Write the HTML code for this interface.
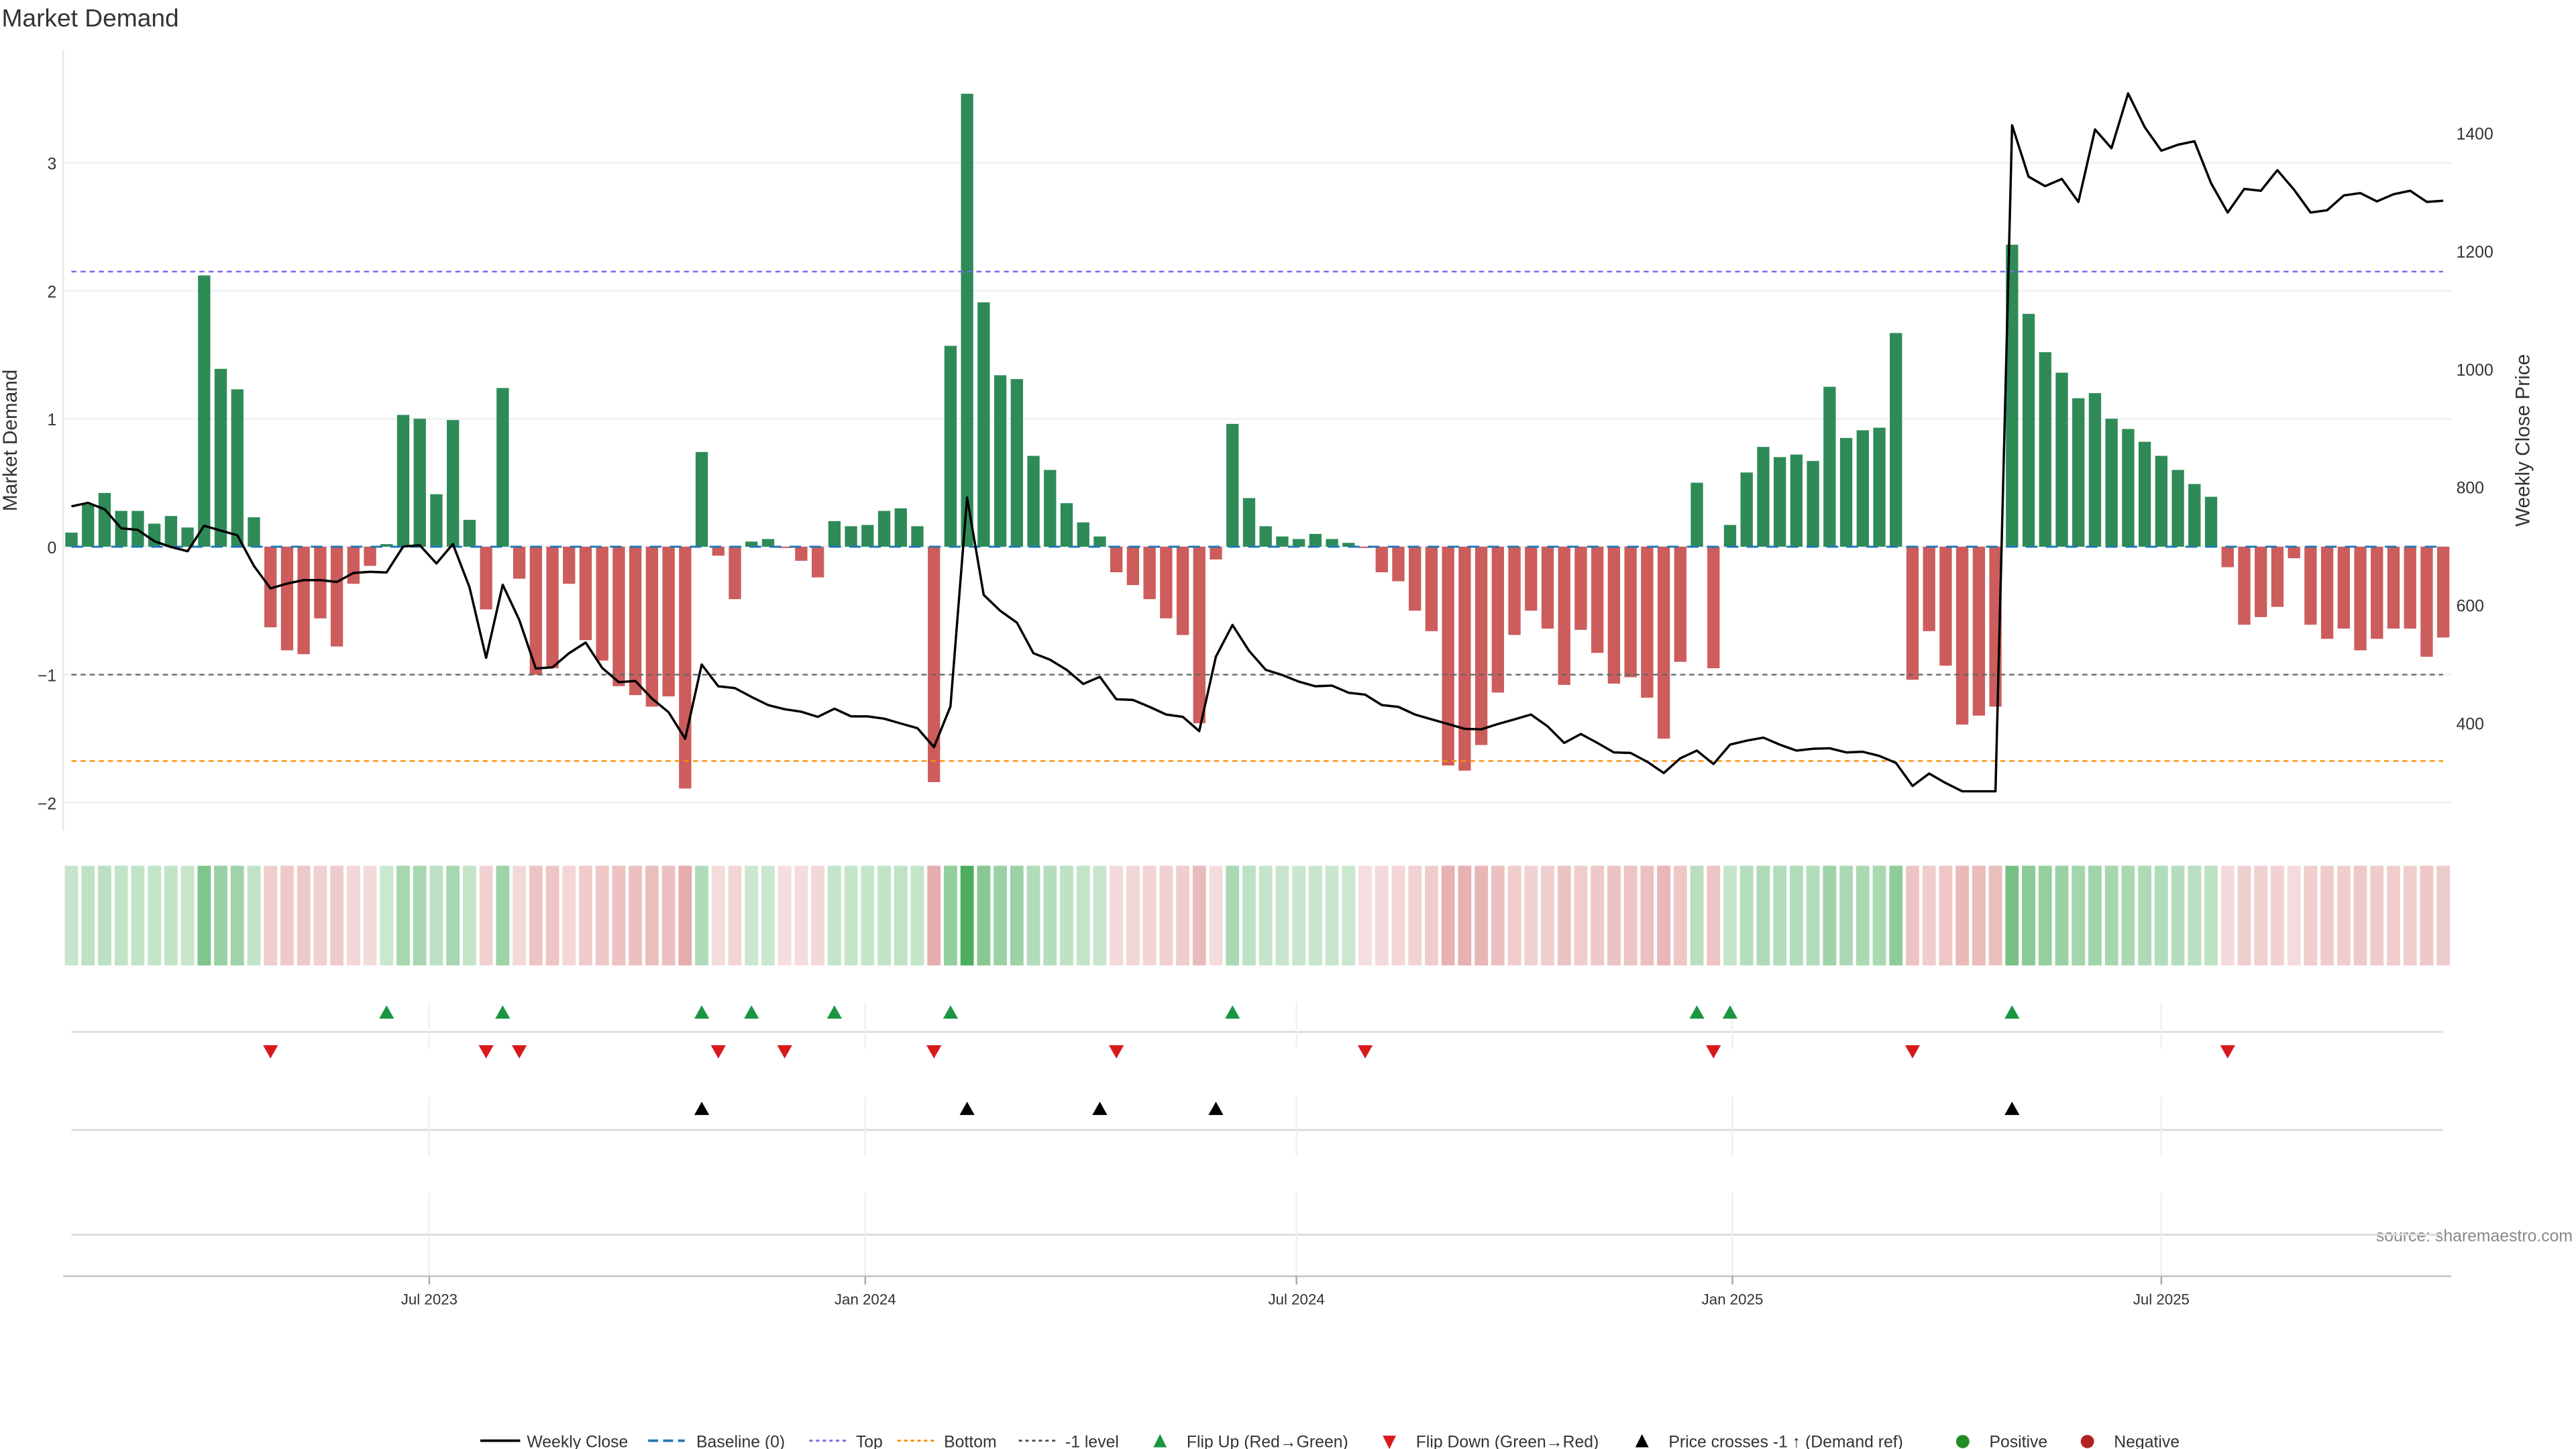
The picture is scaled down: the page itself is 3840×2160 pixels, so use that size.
<!DOCTYPE html>
<html><head><meta charset="utf-8"><style>
html,body{margin:0;padding:0;background:#fff;}
svg{display:block;font-family:"Liberation Sans","DejaVu Sans",sans-serif;}
</style></head><body>
<svg id="chart" width="3840" height="2160" viewBox="0 0 1550 872" preserveAspectRatio="none" xmlns="http://www.w3.org/2000/svg">
<text x="1" y="16" font-size="15" fill="#333">Market Demand</text>
<text transform="translate(10,265) rotate(-90)" text-anchor="middle" font-size="12" fill="#333">Market Demand</text>
<text transform="translate(1522,265) rotate(-90)" text-anchor="middle" font-size="12" fill="#333">Weekly Close Price</text>
<text x="1548" y="747" text-anchor="end" font-size="10" fill="#888">source: sharemaestro.com</text>
<g id="grid"></g><g id="bars"></g><g id="refs"></g><g id="price"></g><g id="heat"></g><g id="markers"></g><g id="xaxis"></g>
<g id="legend" font-size="10" fill="#333">
<line x1="289" y1="867" x2="313" y2="867" stroke="#000" stroke-width="1.5"/><text x="317" y="871">Weekly Close</text>
<line x1="390" y1="867" x2="412" y2="867" stroke="#1f77b4" stroke-width="1.5" stroke-dasharray="6,3"/><text x="419" y="871">Baseline (0)</text>
<line x1="487" y1="867" x2="509" y2="867" stroke="#7b68ee" stroke-width="1.2" stroke-dasharray="2,2"/><text x="515" y="871">Top</text>
<line x1="540" y1="867" x2="562" y2="867" stroke="#ff8c00" stroke-width="1.2" stroke-dasharray="2,2"/><text x="568" y="871">Bottom</text>
<line x1="613" y1="867" x2="635" y2="867" stroke="#555" stroke-width="1.2" stroke-dasharray="2,2"/><text x="641" y="871">-1 level</text>
<path d="M694,871 L702,871 L698,863 Z" fill="#1a9641"/><text x="714" y="871">Flip Up (Red→Green)</text>
<path d="M832,864 L840,864 L836,872 Z" fill="#d7191c"/><text x="852" y="871">Flip Down (Green→Red)</text>
<path d="M984,871 L992,871 L988,863 Z" fill="#000"/><text x="1004" y="871">Price crosses -1 ↑ (Demand ref)</text>
<circle cx="1181" cy="867.5" r="4" fill="#228b22"/><text x="1197" y="871">Positive</text>
<circle cx="1256" cy="867.5" r="4" fill="#b22222"/><text x="1272" y="871">Negative</text>
</g>
</svg>
<script>
const demand=[0.11,0.33,0.42,0.28,0.28,0.18,0.24,0.15,2.12,1.39,1.23,0.23,-0.63,-0.81,-0.84,-0.56,-0.78,-0.29,-0.15,0.02,1.03,1.0,0.41,0.99,0.21,-0.49,1.24,-0.25,-1.0,-0.95,-0.29,-0.73,-0.89,-1.09,-1.16,-1.25,-1.17,-1.89,
0.74,-0.07,-0.41,0.04,0.06,-0.01,-0.11,-0.24,0.2,0.16,0.17,0.28,0.3,0.16,-1.84,1.57,3.54,1.91,1.34,1.31,0.71,0.6,0.34,0.19,0.08,-0.2,-0.3,-0.41,-0.56,-0.69,-1.38,-0.1,0.96,0.38,0.16,0.08,0.06,
0.1,0.06,0.03,-0.01,-0.2,-0.27,-0.5,-0.66,-1.71,-1.75,-1.55,-1.14,-0.69,-0.5,-0.64,-1.08,-0.65,-0.83,-1.07,-1.02,-1.18,-1.5,-0.9,0.5,-0.95,0.17,0.58,0.78,0.7,0.72,0.67,1.25,0.85,0.91,0.93,1.67,
-1.04,-0.66,-0.93,-1.39,-1.32,-1.25,2.36,1.82,1.52,1.36,1.16,1.2,1.0,0.92,0.82,0.71,0.6,0.49,0.39,-0.16,-0.61,-0.55,-0.47,-0.09,-0.61,-0.72,-0.64,-0.81,-0.72,-0.64,-0.64,-0.86,-0.71];
const closePrice=[767,773,762,730,727,708,698,691,734,726,718,666,628,636,642,642,639,654,656,655,699,701,670,703,630,510,634,574,492,494,518,536,493,469,471,441,418,373,
499,462,459,444,430,423,419,410,424,411,411,407,399,391,359,428,782,617,590,570,518,507,490,466,478,440,439,427,414,410,386,512,566,522,490,481,470,
462,463,451,448,430,427,414,406,398,390,389,398,406,414,394,366,381,366,350,349,334,315,340,353,330,363,370,375,363,353,356,357,350,351,344,
332,293,314,298,284,284,284,1413,1326,1310,1322,1283,1406,1374,1467,1410,1370,1380,1386,1315,1265,1305,1302,1337,1304,1265,1269,1294,1298,1284,1296,1302,1283,1285];
const priceCrossIdx=[38,54,62,69,117];
const yTicks=[3,2,1,0,-1,-2];
const y2Ticks=[1400,1200,1000,800,600,400];
const refLevels=[2.15,-1,-1.675];
const xTickLabels=["Jul 2023","Jan 2024","Jul 2024","Jan 2025","Jul 2025"];
const xTickDates=["2023-07-01","2024-01-01","2024-07-01","2025-01-01","2025-07-01"];
const startDate="2023-01-31";

const NS="http://www.w3.org/2000/svg";
function mk(tag,attrs,parent){const e=document.createElementNS(NS,tag);for(const k in attrs)e.setAttribute(k,attrs[k]);parent.appendChild(e);return e;}
const X0=43,STEP=9.98;
const xIdx=i=>X0+i*STEP;
const xDate=d=>X0+(new Date(d)-new Date(startDate))/864e5/7*STEP;
const yD=v=>329-v*77;
const yP=p=>80+(1400-p)/200*71;
const G=id=>document.getElementById(id);

// grid + y axes
const grid=G('grid');
mk('line',{x1:38,y1:30,x2:38,y2:500,stroke:'#e8e8e8','stroke-width':1},grid);
yTicks.forEach(t=>{
  const l=mk('line',{x1:38,y1:yD(t),x2:1475,y2:yD(t),stroke:'#eef0f2','stroke-width':1},grid);
  
  
  const tx=mk('text',{x:34,y:yD(t)+4,'text-anchor':'end','font-size':10,fill:'#333'},grid);
  tx.textContent=t<0?'\u2212'+Math.abs(t):String(t);
  
  
});
y2Ticks.forEach(t=>{
  const tx=mk('text',{x:1478,y:yP(t)+4,'font-size':10,fill:'#333'},grid);
  tx.textContent=String(t);
  
  
});

// bars
const bars=G('bars');
demand.forEach((v,i)=>{
  const y0=yD(0),y1=yD(v);
  const r=mk('rect',{x:xIdx(i)-3.7,y:Math.min(y0,y1),width:7.4,height:Math.max(0.6,Math.abs(y1-y0)),fill:v>=0?'#2e8b57':'#cd5c5c'},bars);
  
  
});

// reference lines
const refs=G('refs');
const refColors=['#7b68ee','#666','#ff8c00'];
refLevels.forEach((v,k)=>{
  const l=mk('line',{x1:43,y1:yD(v),x2:1470,y2:yD(v),stroke:refColors[k],'stroke-width':1,'stroke-dasharray':'3,2.5'},refs);
  
  
});
const bl=mk('line',{x1:43,y1:yD(0),x2:1470,y2:yD(0),stroke:'#1f77b4','stroke-width':1.2,'stroke-dasharray':'7,5'},refs);



// price line
const pl=mk('polyline',{points:closePrice.map((p,i)=>xIdx(i).toFixed(1)+','+yP(p).toFixed(1)).join(' '),fill:'none',stroke:'#000','stroke-width':1.4,'stroke-linejoin':'round'},G('price'));



// heat strip
const heat=G('heat');
demand.forEach((v,i)=>{
  const a=Math.min(0.25+0.17*Math.abs(v),0.9);
  const r=mk('rect',{x:xIdx(i)-4,y:521,width:8,height:60,fill:v>=0?'rgb(46,160,67)':'rgb(205,92,92)','fill-opacity':v>=0?a:Math.min(0.2+0.16*Math.abs(v),0.8)},heat);
  
  
});

// marker panels
const mkG=G('markers');
[621,680,743].forEach(y=>{
  const l=mk('line',{x1:43,y1:y,x2:1470,y2:y,stroke:'#ddd','stroke-width':1.2},mkG);
  
  
});
xTickDates.forEach(d=>{
  const x=xDate(d);
  [[603,631],[660,696],[718,768]].forEach(s=>{
    const l=mk('line',{x1:x,y1:s[0],x2:x,y2:s[1],stroke:'#eef0f2','stroke-width':1},mkG);
    
    
  });
});
for(let i=1;i<demand.length;i++){
  const x=xIdx(i);
  if(demand[i]>=0&&demand[i-1]<0){
    const p=mk('path',{d:`M${x-4.5},${613} L${x+4.5},${613} L${x},${605} Z`,fill:'#1a9641'},mkG);
    
    
  } else if(demand[i]<0&&demand[i-1]>=0){
    const p=mk('path',{d:`M${x-4.5},${629} L${x+4.5},${629} L${x},${637} Z`,fill:'#d7191c'},mkG);
    
    
  }
}
priceCrossIdx.forEach(i=>{
  const x=xIdx(i);
  const p=mk('path',{d:`M${x-4.5},${671} L${x+4.5},${671} L${x},${663} Z`,fill:'#000'},mkG);
  
  
});

// x axis
const xa=G('xaxis');
const ax=mk('line',{x1:38,y1:768,x2:1475,y2:768,stroke:'#ccc','stroke-width':1.2},xa);


xTickDates.forEach((d,k)=>{
  const x=xDate(d);
  mk('line',{x1:x,y1:768,x2:x,y2:773,stroke:'#aaa','stroke-width':1},xa);
  const t=mk('text',{x:x,y:785,'text-anchor':'middle','font-size':9,fill:'#333'},xa);
  t.textContent=xTickLabels[k];
  
  
});
</script>
</body></html>
